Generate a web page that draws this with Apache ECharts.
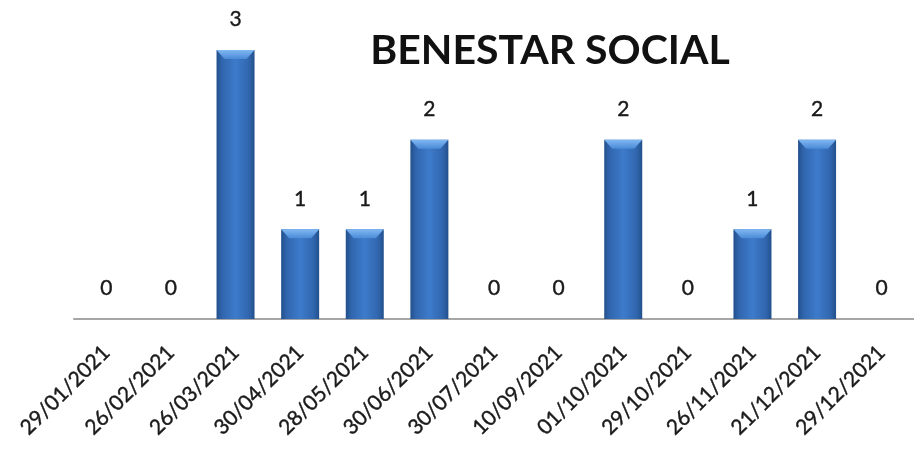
<!DOCTYPE html>
<html>
<head>
<meta charset="utf-8">
<script src="https://cdn.jsdelivr.net/npm/echarts@6/dist/echarts.min.js"></script>
<style>
  html, body { margin: 0; padding: 0; background: #fff; }
  #chart { width: 914px; height: 451px; }
</style>
</head>
<body>
<div id="chart"></div>
<script>
var categories = ["29/01/2021", "26/02/2021", "26/03/2021", "30/04/2021", "28/05/2021", "30/06/2021",
  "30/07/2021", "10/09/2021", "01/10/2021", "29/10/2021", "26/11/2021", "21/12/2021", "29/12/2021"];
var values = [0, 0, 3, 1, 1, 2, 0, 0, 2, 0, 1, 2, 0];

var chart = echarts.init(document.getElementById("chart"));

var barColor = new echarts.graphic.LinearGradient(0, 0, 1, 0, [
  { offset: 0, color: "#22508c" },
  { offset: 0.15, color: "#3166ae" },
  { offset: 0.5, color: "#3d7bcb" },
  { offset: 0.85, color: "#3166ae" },
  { offset: 1, color: "#22508c" }
]);

var option = {
  animation: false,
  title: {
    text: "BENESTAR SOCIAL",
    left: 545,
    top: 25,
    textAlign: "center",
    textStyle: { fontFamily: "Lato", fontWeight: "bold", fontSize: 41, color: "#111" }
  },
  grid: { left: 74, width: 849, top: 50, bottom: 132 },
  xAxis: {
    type: "category",
    data: categories,
    axisTick: { show: false },
    axisLine: { lineStyle: { color: "#a6a6a6", width: 2 } },
    axisLabel: {
      rotate: 45,
      interval: 0,
      margin: 30,
      fontFamily: "Lato",
      fontSize: 21,
      color: "#1a1a1a",
      textBorderColor: "#1a1a1a",
      textBorderWidth: 0.4
    }
  },
  yAxis: { type: "value", min: 0, max: 3, show: false },
  series: [
    {
      type: "bar",
      data: values,
      barWidth: 38,
      itemStyle: { color: barColor },
      label: {
        show: true,
        position: "top",
        distance: 20,
        fontFamily: "Lato",
        fontSize: 21,
        color: "#1a1a1a",
        textBorderColor: "#1a1a1a",
        textBorderWidth: 0.4
      },
      z: 2
    },
    {
      type: "pictorialBar",
      data: values.map(function (v) { return v > 0 ? v : "-"; }),
      symbol: "path://M0,0 L38,0 L30,9 L8,9 Z",
      symbolSize: [38, 9],
      symbolPosition: "end",
      barGap: "-100%",
      itemStyle: {
        color: new echarts.graphic.LinearGradient(0, 0, 0, 1, [
          { offset: 0, color: "#80b8f2" },
          { offset: 1, color: "#4a8ad6" }
        ])
      },
      z: 3,
      silent: true
    }
  ]
};

chart.setOption(option);
</script>
</body>
</html>
